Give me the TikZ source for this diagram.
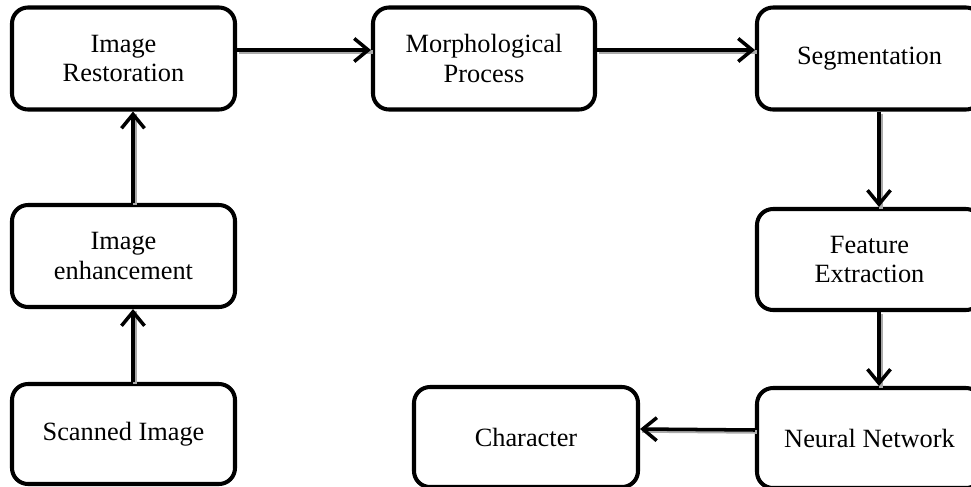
\documentclass[tikz,border=0pt]{standalone}
\usepackage{fontspec}
\setmainfont{Liberation Serif}
\usepackage{tikz}
\usetikzlibrary{arrows.meta, positioning}
\definecolor{mydark}{RGB}{0,0,0}
\definecolor{myshadow}{RGB}{170,170,170}
\tikzset{
  stage/.style={rectangle, draw=mydark, fill=white,
    minimum width=4.46cm, minimum height=2.04cm, align=center,
    font=\fontsize{15}{17}\selectfont, rounded corners=0.32cm, line width=2.3pt},
  arrow/.style={-{Straight Barb[length=0.28cm, width=0.46cm, line width=2pt]},
    line width=2pt, color=mydark,
    preaction={draw=myshadow, line width=2pt, -,
      transform canvas={shift={(0.04,-0.04)}}}}
}
\begin{document}
\begin{tikzpicture}
  \useasboundingbox (0,0) rectangle (19.42,-9.72);

  % Left column
  \node[stage] (rest) at (2.47,-1.17) {Image\\Restoration};
  \node[stage] (enh) at (2.47,-5.12) {Image\\enhancement};
  \node[stage, minimum height=2.0cm] (scan) at (2.47,-8.68) {Scanned Image};

  % Top row
  \node[stage, minimum width=4.44cm] (morph) at (9.68,-1.17) {Morphological\\Process};
  \node[stage, minimum width=4.5cm] (seg) at (17.39,-1.17) {Segmentation};

  % Right column
  \node[stage, minimum width=4.5cm, minimum height=2.02cm] (feat) at (17.39,-5.19) {Feature\\Extraction};
  \node[stage, minimum width=4.5cm, minimum height=2.0cm] (neural) at (17.39,-8.76) {Neural Network};
  \node[stage, minimum width=4.48cm, minimum height=2.0cm] (char) at (10.52,-8.74) {Character};

  % Connections
  \draw[arrow] ([xshift=0.19cm]scan.north) -- ([xshift=0.19cm]enh.south);
  \draw[arrow] ([xshift=0.19cm]enh.north) -- ([xshift=0.19cm]rest.south);
  \draw[arrow] ([yshift=0.17cm]rest.east) -- ([yshift=0.17cm]morph.west);
  \draw[arrow] ([yshift=0.17cm]morph.east) -- ([yshift=0.17cm]seg.west);
  \draw[arrow] ([xshift=0.19cm]seg.south) -- ([xshift=0.19cm]feat.north);
  \draw[arrow] ([xshift=0.19cm]feat.south) -- ([xshift=0.19cm]neural.north);
  \draw[arrow] ([yshift=0.16cm]neural.west) -- ([yshift=0.16cm]char.east);
\end{tikzpicture}
\end{document}
